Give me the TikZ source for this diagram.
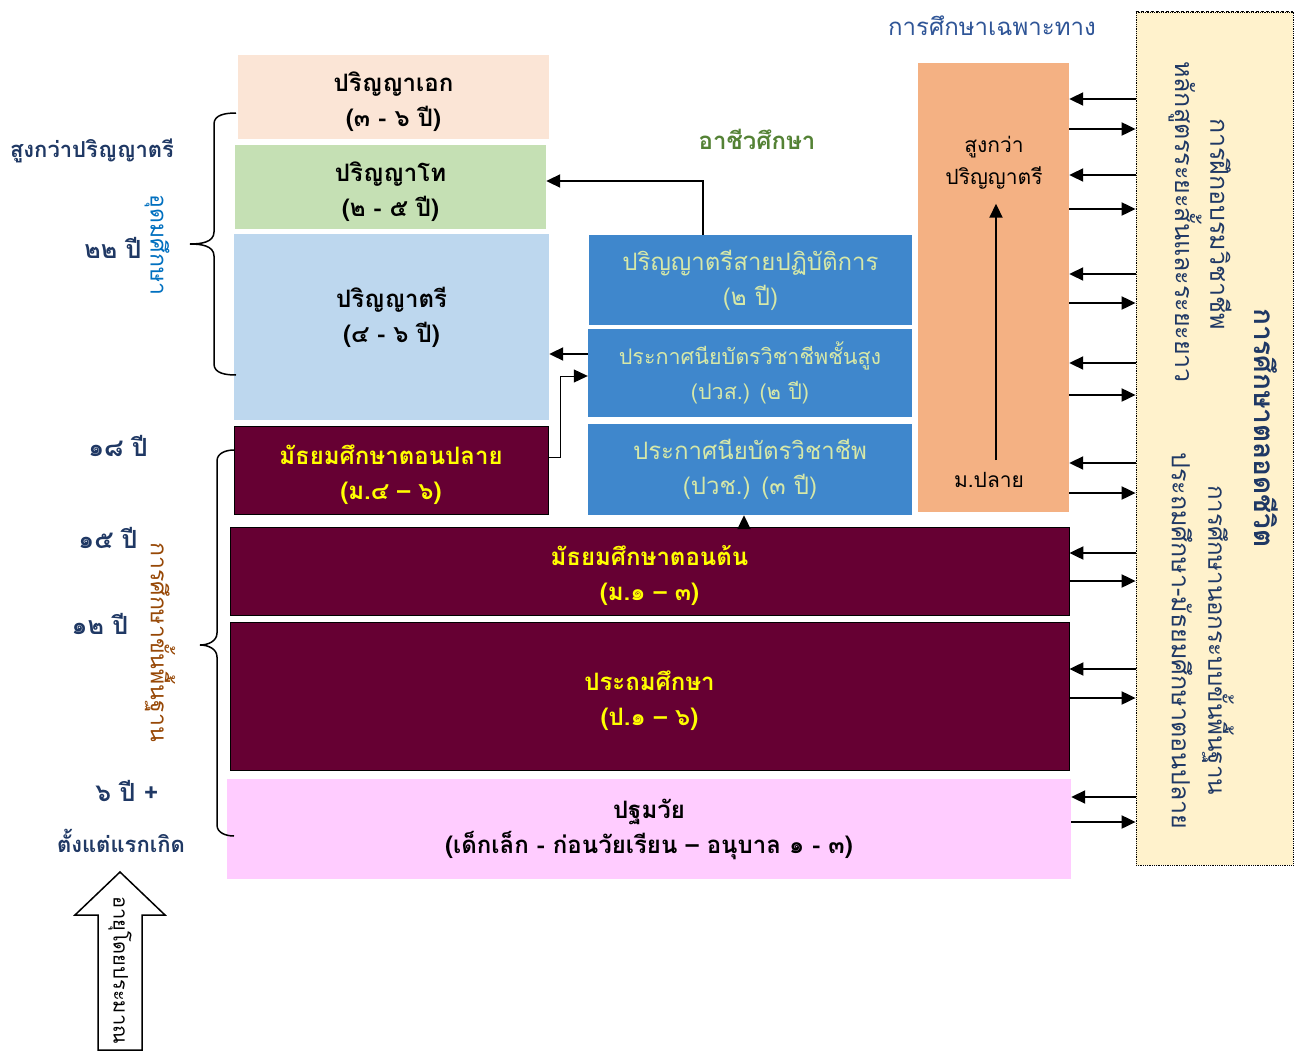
\documentclass[tikz,border=0pt]{standalone}
\usepackage{fontspec}
\setmainfont[Script=Thai]{Loma}
\usetikzlibrary{arrows.meta}
\definecolor{navy}{HTML}{1F3864}
\definecolor{udom}{HTML}{0070C0}
\definecolor{brownT}{HTML}{974806}
\definecolor{greenT}{HTML}{548235}
\definecolor{blueT}{HTML}{2F5597}
\definecolor{peach}{HTML}{FBE5D6}
\definecolor{lgreen}{HTML}{C5E0B4}
\definecolor{lblue}{HTML}{BDD7EE}
\definecolor{maroon}{HTML}{660033}
\definecolor{yel}{HTML}{FFFF00}
\definecolor{voc}{HTML}{3F87CC}
\definecolor{vocT}{HTML}{D6E8A8}
\definecolor{orng}{HTML}{F4B183}
\definecolor{pinkB}{HTML}{FFCCFF}
\definecolor{cream}{HTML}{FFF2CC}
\newcommand\myTopStrut{\rule{0pt}{30pt}}
\tikzset{
  box/.style={rectangle, inner sep=0pt, align=center, font=\fontsize{24}{35}\selectfont\bfseries},
  darkbox/.style={box, fill=maroon, draw=black, line width=0.8pt, text=yel},
  vocbox/.style={box, fill=voc, text=vocT, font=\fontsize{24}{35}\selectfont},
  lbl/.style={inner sep=0pt, text=navy, font=\fontsize{22}{26}\selectfont\bfseries},
  numlbl/.style={lbl, font=\fontsize{25}{28}\selectfont\bfseries},
  vlbl/.style={inner sep=0pt, rotate=-90, font=\fontsize{25}{28}\selectfont},
  arr/.style={line width=2pt, -{Triangle[length=14pt,width=13pt]}},
  thinarr/.style={line width=1pt, -{Triangle[length=14pt,width=13pt]}},
}
\begin{document}
\begin{tikzpicture}[x=1pt,y=-1pt]
\useasboundingbox (0,0) rectangle (1294,1052);
\fill[white] (0,0) rectangle (1294,1052);

% right lifelong box
\node[rectangle, fill=cream, draw=black, densely dotted, line width=0.8pt, minimum width=157pt, minimum height=853pt, inner sep=0pt] (rb) at (1214.5,438.5) {};
\draw[densely dashed, line width=1.5pt] (rb.north west) -- (rb.north east);

% degree boxes
\node[box, fill=peach, minimum width=311pt, minimum height=84pt] (phd) at (393.5,97) {\myTopStrut ปริญญาเอก\\(๓ - ๖ ปี)};
\node[box, fill=lgreen, minimum width=311pt, minimum height=84pt] (ms) at (390.5,187) {\myTopStrut ปริญญาโท\\(๒ - ๕ ปี)};
\node[box, fill=lblue, minimum width=315pt, minimum height=186pt] (ba) at (391.5,327) {\myTopStrut ปริญญาตรี\\(๔ - ๖ ปี)\\\mbox{}};
\node[darkbox, minimum width=314pt, minimum height=88pt] (m4) at (391,470) {\myTopStrut มัธยมศึกษาตอนปลาย\\(ม.๔ – ๖)};

% vocational
\node[vocbox, minimum width=323pt, minimum height=90pt] (bap) at (750.5,280) {ปริญญาตรีสายปฏิบัติการ\\(๒ ปี)};
\node[vocbox, minimum width=324pt, minimum height=88pt, font=\fontsize{21.5}{35}\selectfont] (pws) at (750,373) {ประกาศนียบัตรวิชาชีพชั้นสูง\\(ปวส.) (๒ ปี)};
\node[vocbox, minimum width=324pt, minimum height=91pt] (pwc) at (750,469.5) {ประกาศนียบัตรวิชาชีพ\\(ปวช.) (๓ ปี)};

% orange specialised
\node[rectangle, fill=orng, minimum width=151pt, minimum height=449pt, inner sep=0pt] (spec) at (993.5,287.5) {};
\node[box, font=\fontsize{21}{32}\selectfont] (specT) at (994,163) {สูงกว่า\\ปริญญาตรี};
\node[box, font=\fontsize{21}{32}\selectfont] (specB) at (989,480) {ม.ปลาย};

% basic education
\node[darkbox, minimum width=839pt, minimum height=88pt] (m1) at (649.5,571) {\myTopStrut มัธยมศึกษาตอนต้น\\(ม.๑ – ๓)};
\node[darkbox, minimum width=839pt, minimum height=148pt] (pr) at (649.5,696) {\myTopStrut ประถมศึกษา\\(ป.๑ – ๖)};
\node[box, fill=pinkB, minimum width=844pt, minimum height=100pt] (ec) at (649,829) {ปฐมวัย\\(เด็กเล็ก - ก่อนวัยเรียน – อนุบาล ๑ - ๓)};

% headings
\node[inner sep=0pt, text=greenT, font=\fontsize{24}{28}\selectfont\bfseries] (vocH) at (757,139) {อาชีวศึกษา};
\node[inner sep=0pt, text=blueT, font=\fontsize{24}{28}\selectfont] (specH) at (992,26) {การศึกษาเฉพาะทาง};

% left labels
\node[lbl] (l1) at (92,151) {สูงกว่าปริญญาตรี};
\node[numlbl] (l22) at (113,248) {๒๒ ปี};
\node[numlbl] (l18) at (118,446) {๑๘ ปี};
\node[numlbl] (l15) at (108,538) {๑๕ ปี};
\node[numlbl] (l12) at (100,624) {๑๒ ปี};
\node[numlbl] (l6) at (127,791) {๖ ปี +};
\node[lbl] (l0) at (121,841) {ตั้งแต่แรกเกิด};
\node[vlbl, text=udom, font=\fontsize{23}{26}\selectfont] (udomT) at (157,245) {อุดมศึกษา};
\node[vlbl, text=brownT, font=\fontsize{23}{26}\selectfont] (basicT) at (160,642) {การศึกษาขั้นพื้นฐาน};

% braces
\draw[line width=1.5pt] (236,113) to[out=180,in=90] (214,124) -- (214,232) to[out=-90,in=0] (190,244) to[out=0,in=90] (214,256) -- (214,364) to[out=-90,in=180] (236,375);
\draw[line width=1.5pt] (234,450) to[out=180,in=90] (217,461) -- (217,633) to[out=-90,in=0] (200,645) to[out=0,in=90] (217,657) -- (217,825) to[out=-90,in=180] (234,836);

% right box texts
\node[vlbl, text=navy] (rt1) at (1185,222) {หลักสูตรระยะสั้นและระยะยาว};
\node[vlbl, text=navy] (rt2) at (1221,224) {การฝึกอบรมวิชาชีพ};
\node[vlbl, text=navy, font=\fontsize{28}{30}\selectfont\bfseries] (rt3) at (1266,428) {การศึกษาตลอดชีวิต};
\node[vlbl, text=navy, font=\fontsize{24}{28}\selectfont] (rt4) at (1218,640) {การศึกษานอกระบบขั้นพื้นฐาน};
\node[vlbl, text=navy] (rt5) at (1182,641) {ประถมศึกษา-มัธยมศึกษาตอนปลาย};

% age block arrow
\draw[line width=1.5pt, fill=white] (120,872) -- (165,915) -- (142,915) -- (142,1050) -- (98,1050) -- (98,915) -- (75,915) -- cycle;
\node[vlbl, text=black, font=\fontsize{20}{22}\selectfont] (ageT) at (120,970) {อายุโดยประมาณ};

% connectors
\coordinate (c181) at (0,181);
\draw[arr] (bap.north -| 703,0) |- (ms.east |- c181);
\coordinate (c354) at (0,354);
\draw[arr] (pws.west |- c354) -- (ba.east |- c354);
\coordinate (c457) at (0,457);
\coordinate (c376) at (0,376);
\draw[thinarr] (m4.east |- c457) -- (560,457) |- (pws.west |- c376);
\draw[arr] (m1.north -| 744,0) -- (pwc.south -| 744,0);
\draw[arr] ([yshift=12pt]specB.north -| 996,0) -- ([yshift=-14pt]specT.south -| 996,0);

\foreach \ya/\yb in {99/129,175/209,274/303,363/395,463/493} {
  \coordinate (ya) at (0,\ya); \coordinate (yb) at (0,\yb);
  \draw[arr] (rb.west |- ya) -- (spec.east |- ya);
  \draw[arr] (spec.east |- yb) -- (rb.west |- yb);
}
\foreach \ya/\yb/\n in {553/581/m1,669/698/pr,797/822/ec} {
  \coordinate (ya) at (0,\ya); \coordinate (yb) at (0,\yb);
  \draw[arr] (rb.west |- ya) -- (\n.east |- ya);
  \draw[arr] (\n.east |- yb) -- (rb.west |- yb);
}
\end{tikzpicture}
\end{document}
